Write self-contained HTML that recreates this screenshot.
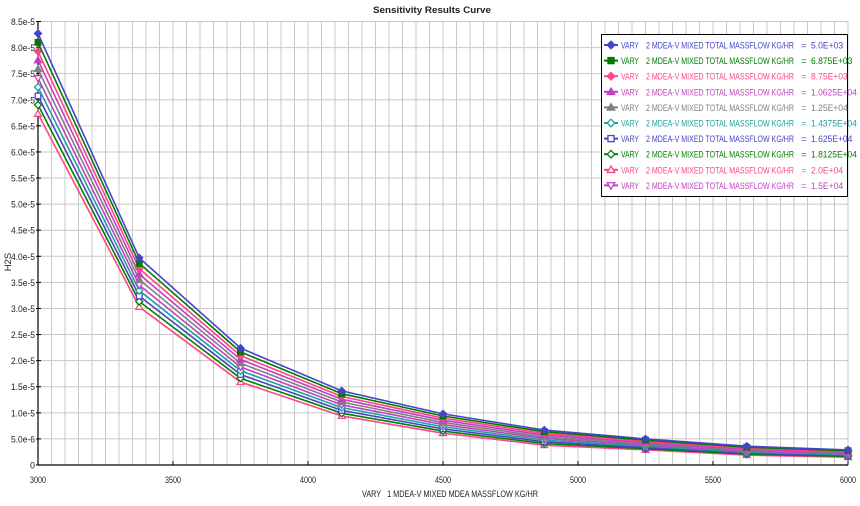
<!DOCTYPE html>
<html><head><meta charset="utf-8"><style>
html,body{margin:0;padding:0;background:#fff;}
svg{display:block;font-family:"Liberation Sans",sans-serif;}
</style></head><body>
<svg id="s" width="860" height="506" xmlns="http://www.w3.org/2000/svg"></svg>
<script>
(function(){
const s=document.getElementById('s');
let h='';
const X0=38,X1=848,Y0=465,YT=21.5;
const px=v=>X0+(v-3000)/3000*(X1-X0);
const py=v=>Y0-(v/8.5e-5)*(Y0-YT);
for(let x=3000;x<=6000;x+=50){const xx=px(x);h+=`<line x1="${xx}" y1="${YT}" x2="${xx}" y2="${Y0}" stroke="#c8c8c8" stroke-width="1"/>`;}
for(let i=0;i<=17;i++){const yy=py(i*5e-6);h+=`<line x1="${X0}" y1="${yy}" x2="${X1}" y2="${yy}" stroke="#c8c8c8" stroke-width="1"/>`;}
h+=`<line x1="${X0}" y1="${YT}" x2="${X0}" y2="${Y0}" stroke="#000" stroke-width="1.2"/><line x1="${X0}" y1="${Y0}" x2="${X1}" y2="${Y0}" stroke="#000" stroke-width="1.2"/>`;
const yl=['0','5.0e-6','1.0e-5','1.5e-5','2.0e-5','2.5e-5','3.0e-5','3.5e-5','4.0e-5','4.5e-5','5.0e-5','5.5e-5','6.0e-5','6.5e-5','7.0e-5','7.5e-5','8.0e-5','8.5e-5'];
yl.forEach((t,i)=>{const yy=py(i*5e-6);h+=`<text x="35" y="${yy+3.5}" font-size="9.5" text-anchor="end" fill="#222" textLength="${t.length>2?24:5}" lengthAdjust="spacingAndGlyphs">${t}</text><line x1="${X0-2}" y1="${yy}" x2="${X0+3}" y2="${yy}" stroke="#000"/>`;});
for(let x=3000;x<=6000;x+=500){const xx=px(x);h+=`<text x="${xx}" y="483" font-size="9.5" text-anchor="middle" fill="#222" textLength="16" lengthAdjust="spacingAndGlyphs">${x}</text><line x1="${xx}" y1="${Y0-4}" x2="${xx}" y2="${Y0}" stroke="#000"/>`;}
h+=`<text x="432" y="13" font-size="9.5" font-weight="bold" text-anchor="middle" fill="#222" textLength="118" lengthAdjust="spacingAndGlyphs">Sensitivity Results Curve</text>`;
h+=`<text x="450" y="497" font-size="9.5" text-anchor="middle" fill="#222" textLength="176" lengthAdjust="spacingAndGlyphs" xml:space="preserve">VARY   1 MDEA-V MIXED MDEA MASSFLOW KG/HR</text>`;
h+=`<text transform="translate(11,262) rotate(-90)" font-size="9.5" text-anchor="middle" fill="#222">H2S</text>`;
const xs=[3000,3375,3750,4125,4500,4875,5250,5625,6000];
const tv=[8.27e-5,3.97e-5,2.24e-5,1.42e-5,0.98e-5,0.67e-5,0.50e-5,0.36e-5,0.29e-5];
const bv=[6.73e-5,3.03e-5,1.59e-5,0.94e-5,0.61e-5,0.38e-5,0.29e-5,0.19e-5,0.15e-5];
const ser=[
['#4545c8','dia','5.0E+03',0],['#007a00','sq','6.875E+03',1],['#ff4488','dia','8.75E+03',2],['#c040c0','tri','1.0625E+04',3],['#808080','tri','1.25E+04',4],
['#20a0a0','odia','1.4375E+04',6],['#4545c8','osq','1.625E+04',7],['#008000','odia','1.8125E+04',8],['#ff4488','otri','2.0E+04',9],['#c040c0','ovtri','1.5E+04',5]];
function mk(t,c,x,y,r){
 const f=t[0]=='o'?'#fff':c;const k=t.replace(/^o/,'');
 if(k=='dia')return `<polygon points="${x},${y-r} ${x+r},${y} ${x},${y+r} ${x-r},${y}" fill="${f}" stroke="${c}" stroke-width="1.3"/>`;
 if(k=='sq')return `<rect x="${x-r*.8}" y="${y-r*.8}" width="${r*1.6}" height="${r*1.6}" fill="${f}" stroke="${c}" stroke-width="1.3"/>`;
 if(k=='tri')return `<polygon points="${x},${y-r} ${x+r},${y+r*.7} ${x-r},${y+r*.7}" fill="${f}" stroke="${c}" stroke-width="1.3"/>`;
 return `<polygon points="${x},${y+r} ${x+r},${y-r*.7} ${x-r},${y-r*.7}" fill="${f}" stroke="${c}" stroke-width="1.3"/>`;
}
const order=ser.slice().sort((a,b)=>b[3]-a[3]);
order.forEach(sr=>{const fr=sr[3]/9;
 const pts=xs.map((x,i)=>[px(x),py(tv[i]+(bv[i]-tv[i])*fr)]);
 h+=`<polyline points="${pts.map(p=>p.join(',')).join(' ')}" fill="none" stroke="${sr[0]}" stroke-width="1.6"/>`;
 pts.forEach(p=>h+=mk(sr[1],sr[0],p[0],p[1],3.5));});
h+=`<rect x="601.5" y="34.5" width="246" height="162" fill="#fff" stroke="#000" stroke-width="1"/>`;
ser.forEach((sr,i)=>{const y=45+i*15.6;
 h+=`<line x1="604" y1="${y}" x2="618" y2="${y}" stroke="${sr[0]}" stroke-width="2"/>`+mk(sr[1],sr[0],611,y,3.8);
 h+=`<text x="621" y="${y+3.5}" font-size="9.5" fill="${sr[0]}" textLength="18" lengthAdjust="spacingAndGlyphs">VARY</text>`;
 h+=`<text x="646" y="${y+3.5}" font-size="9.5" fill="${sr[0]}" textLength="148" lengthAdjust="spacingAndGlyphs">2 MDEA-V MIXED TOTAL MASSFLOW KG/HR</text>`;
 h+=`<text x="801" y="${y+3.5}" font-size="9.5" fill="${sr[0]}">=</text>`;
 const w=sr[2].length*4.6;
 h+=`<text x="811" y="${y+3.5}" font-size="9.5" fill="${sr[0]}" textLength="${w}" lengthAdjust="spacingAndGlyphs">${sr[2]}</text>`;});
s.innerHTML=h;
})();
</script>
</body></html>
